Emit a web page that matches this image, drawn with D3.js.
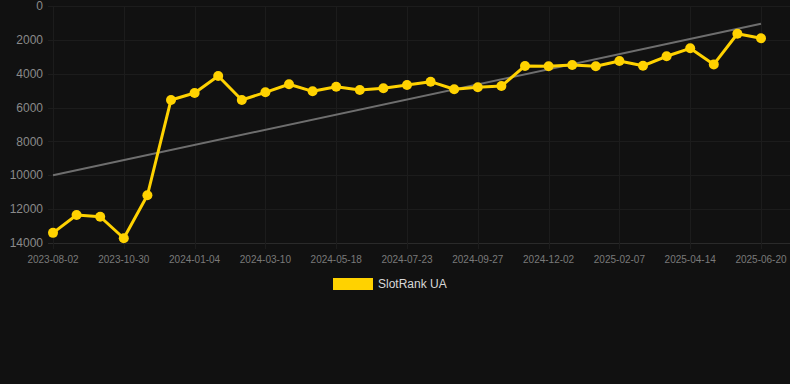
<!DOCTYPE html>
<html>
<head>
<meta charset="utf-8">
<script src="https://cdn.jsdelivr.net/npm/d3@7"></script>
<style>
  html, body { margin: 0; padding: 0; background: #111111; }
  svg { display: block; font-family: "Liberation Sans", Arial, sans-serif; }
</style>
</head>
<body>
<svg id="chart" width="790" height="384"></svg>
<script>
// category labels (one per point), only every 3rd one is shown on the axis
const dates = [
  '2023-08-02','2023-08-31','2023-09-30','2023-10-30','2023-11-21','2023-12-13',
  '2024-01-04','2024-01-26','2024-02-17','2024-03-10','2024-04-02','2024-04-25',
  '2024-05-18','2024-06-09','2024-07-01','2024-07-23','2024-08-14','2024-09-05',
  '2024-09-27','2024-10-19','2024-11-10','2024-12-02','2024-12-24','2025-01-15',
  '2025-02-07','2025-03-01','2025-03-23','2025-04-14','2025-05-06','2025-05-28',
  '2025-06-20'
];
const rankUA = [
  13400, 12350, 12450, 13720, 11180, 5550, 5140, 4135, 5550, 5100, 4620, 5040,
  4770, 4960, 4860, 4670, 4470, 4920, 4800, 4730, 3540, 3560, 3490, 3560,
  3250, 3530, 2970, 2500, 3450, 1640, 1910
];
const trendEnds = [10000, 1050];
const yTicks = [0, 2000, 4000, 6000, 8000, 10000, 12000, 14000];
const seriesName = 'SlotRank UA';

const svg = d3.select('#chart');
const plotL = 53, plotR = 761, plotT = 6, plotB = 243;

const x = d3.scalePoint().domain(dates).range([plotL, plotR]);
const y = d3.scaleLinear().domain([0, 14000]).range([plotT, plotB]);
const shown = dates.filter((d, i) => i % 3 === 0);

// grid
const grid = svg.append('g').attr('stroke-width', 1);
grid.selectAll('line.h').data(yTicks).join('line')
    .attr('class', 'h')
    .attr('stroke', d => d === 14000 ? '#2a2a2a' : '#1c1c1c')
    .attr('x1', 48).attr('x2', 790)
    .attr('y1', d => Math.round(y(d)) + 0.5).attr('y2', d => Math.round(y(d)) + 0.5);
grid.selectAll('line.v').data(shown).join('line')
    .attr('class', 'v')
    .attr('stroke', '#1c1c1c')
    .attr('x1', d => Math.round(x(d)) + 0.5).attr('x2', d => Math.round(x(d)) + 0.5)
    .attr('y1', plotT).attr('y2', plotB + 6);

// y axis labels
svg.append('g').selectAll('text').data(yTicks).join('text')
    .attr('x', 43).attr('y', d => y(d))
    .attr('dy', '0.35em')
    .attr('text-anchor', 'end')
    .attr('fill', '#8a8a8a')
    .style('font-size', '12px')
    .text(d => d);

// x axis labels
svg.append('g').selectAll('text').data(shown).join('text')
    .attr('x', d => x(d)).attr('y', 259)
    .attr('dy', '0.35em')
    .attr('text-anchor', 'middle')
    .attr('fill', '#7a7a7a')
    .style('font-size', '10px')
    .text(d => d);

// trend line
svg.append('line')
    .attr('x1', x(dates[0])).attr('y1', y(trendEnds[0]))
    .attr('x2', x(dates[dates.length - 1])).attr('y2', y(trendEnds[1]))
    .attr('stroke', '#6e6e6e').attr('stroke-width', 2);

// series line
const line = d3.line().x((d, i) => x(dates[i])).y(d => y(d));
svg.append('path').datum(rankUA)
    .attr('d', line)
    .attr('fill', 'none')
    .attr('stroke', '#ffd200')
    .attr('stroke-width', 3)
    .attr('stroke-linejoin', 'round');

svg.append('g').selectAll('circle').data(rankUA).join('circle')
    .attr('cx', (d, i) => x(dates[i]))
    .attr('cy', d => y(d))
    .attr('r', 5)
    .attr('fill', '#ffd200');

// legend
const legend = svg.append('g');
legend.append('rect')
    .attr('x', 333).attr('y', 278).attr('width', 40).attr('height', 12)
    .attr('fill', '#ffd200');
legend.append('text')
    .attr('x', 378).attr('y', 284).attr('dy', '0.35em')
    .attr('fill', '#d8d8d8')
    .style('font-size', '12px')
    .text(seriesName);
</script>
</body>
</html>
